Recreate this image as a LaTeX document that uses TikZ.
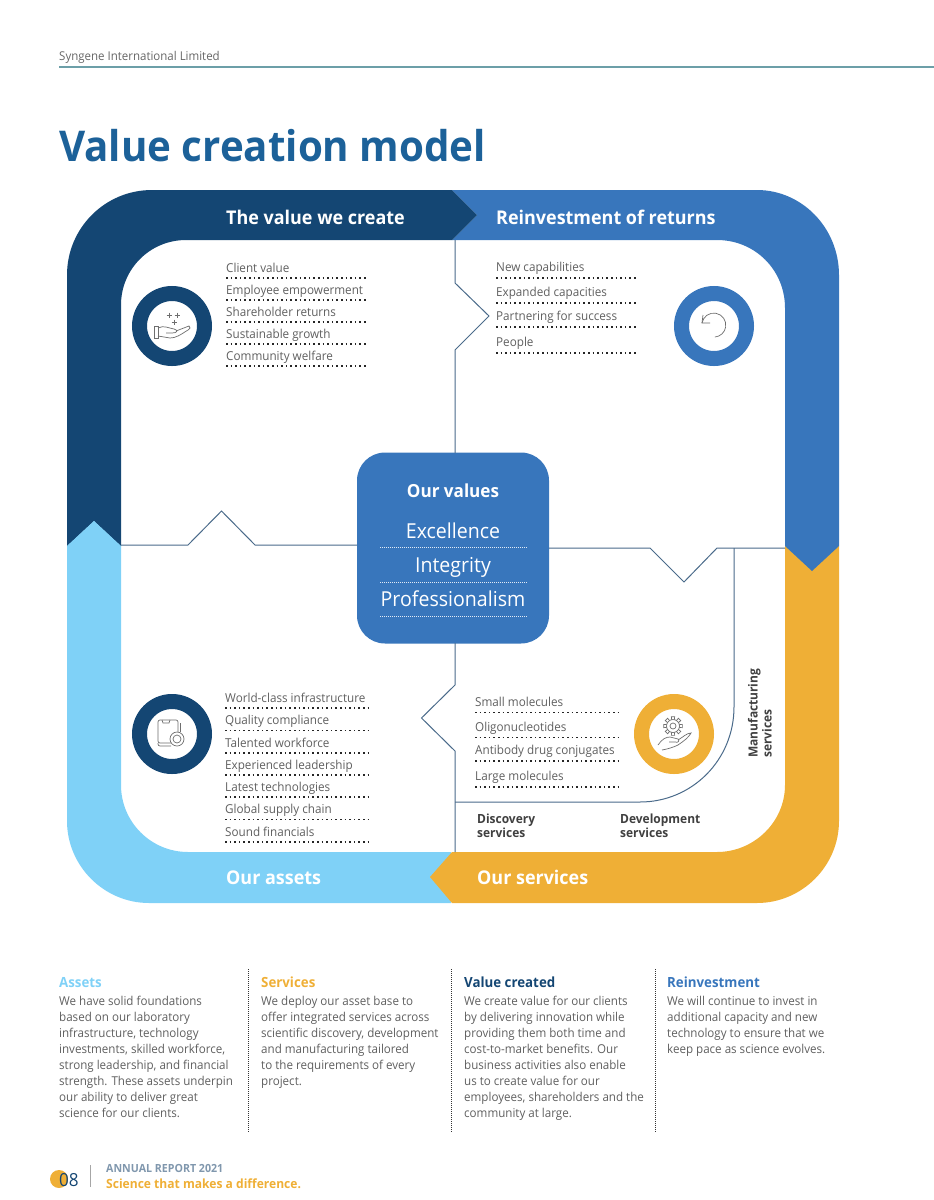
\documentclass[tikz,border=0pt]{standalone}
\usepackage{fontspec}
\setmainfont[FakeStretch=0.95]{Open Sans}
\usetikzlibrary{calc}
\definecolor{navyband}{HTML}{144673}
\definecolor{blueband}{HTML}{3876BC}
\definecolor{skyband}{HTML}{7FD1F7}
\definecolor{goldband}{HTML}{EFAF36}
\definecolor{titleblue}{HTML}{1C6199}
\definecolor{linkslate}{HTML}{4A6A8A}
\definecolor{rulegreen}{HTML}{6C9FA8}
\definecolor{bodygrey}{HTML}{5F5F5F}
\definecolor{icongrey}{HTML}{6E6E6E}
\newcommand{\listfont}{\fontsize{12.3}{15}\selectfont}
\newcommand{\bodyfont}{\fontsize{12.2}{16}\selectfont}
\newcommand{\headfont}{\fontsize{14}{16}\selectfont\bfseries}
\newcommand{\bandfont}{\fontsize{18.9}{22}\selectfont\bfseries}
\newcommand{\valuefont}{\fontsize{20.6}{25}\selectfont}
\newcommand{\servfont}{\fontsize{12.6}{14}\selectfont\bfseries}
\tikzset{
    bandlabel/.style={anchor=base west, text=white, font=\bandfont, inner sep=0pt},
    listitem/.style={anchor=base west, text=bodygrey, font=\listfont, inner sep=0pt},
    dotrule/.style={line width=1.6pt, dash pattern=on 1.6pt off 3pt, black!85},
    finedots/.style={line width=0.8pt, dash pattern=on 0.8pt off 1.2pt, black!80},
    whitedots/.style={line width=0.8pt, dash pattern=on 0.9pt off 1.1pt, white!85!blueband},
    link/.style={draw=linkslate, line width=1pt},
    ring/.style={draw=#1, circle, line width=15pt, minimum size=65pt, fill=white, outer sep=0pt, inner sep=0pt},
    iconline/.style={draw=icongrey, line width=0.7pt},
    coltext/.style={anchor=north west, align=left, text=bodygrey, font=\bodyfont, inner sep=0pt},
    colhead/.style={anchor=base west, font=\headfont, inner sep=0pt},
    servlabel/.style={align=left, text=black!75, font=\servfont, inner sep=0pt}
}
\begin{document}
\begin{tikzpicture}[x=1pt, y=-1pt]
        \useasboundingbox (0,0) rectangle (934,1200);

        % --- Header ---
        \node [anchor=base west, text=black!60, font=\fontsize{12.1}{14}\selectfont, inner sep=0pt] (company) at (59,60) {Syngene International Limited};
        \coordinate (ruleleft) at (59,67);
        \coordinate (ruleright) at (934,67);
        \draw [draw=rulegreen, line width=1.3pt] (ruleleft) -- (ruleright);
        \node [anchor=base west, text=titleblue, font=\fontsize{42.4}{50}\selectfont\bfseries, inner sep=0pt] (title) at (59,161) {Value creation model};

        % --- Bands ---
        \fill [skyband] (451,903) -- (149,903) .. controls (104,903) and (67,866) .. (67,821) -- (67,546) -- (94,521) -- (121,546) -- (121,785) .. controls (121,822) and (151,852) .. (188,852) -- (451,852) -- cycle;
        \fill [navyband] (452,190) -- (152,190) .. controls (105,190) and (67,228) .. (67,275) -- (67,546) -- (94,521) -- (121,546) -- (121,305) .. controls (121,269) and (150,240) .. (186,240) -- (452,240) -- cycle;
        \fill [skyband] (67,546) -- (94,521) -- (121,546) -- cycle;
        \fill [goldband] (839,546) -- (839,821) .. controls (839,866) and (802,903) .. (757,903) -- (452,903) -- (430,877) -- (452,852) -- (717,852) .. controls (754,852) and (785,822) .. (785,785) -- (785,546) -- cycle;
        \fill [blueband] (452,190) -- (757,190) .. controls (802,190) and (839,228) .. (839,275) -- (839,546) -- (812,571) -- (785,546) -- (785,308) .. controls (785,270) and (755,240) .. (717,240) -- (452,240) -- (477,215) -- cycle;
        \fill [navyband] (452,190) -- (477,215) -- (452,240) -- cycle;

        % --- Band labels ---
        \node [bandlabel] (createlabel) at (226,224) {The value we create};
        \node [bandlabel] (reinvestlabel) at (496,224) {Reinvestment of returns};
        \node [bandlabel] (assetlabel) at (226,884) {Our assets};
        \node [bandlabel] (servicelabel) at (477,884) {Our services};

        % --- Values box ---
        \node [draw=none, fill=blueband, rounded corners=28pt, minimum width=192pt, minimum height=191pt, inner sep=0pt, outer sep=0pt] (valuesbox) at (453,548) {};
        \node [text=white, font=\fontsize{18}{20}\selectfont\bfseries, inner sep=0pt] (valuestitle) at (453,491) {Our values};
        \node [anchor=base, text=white, font=\valuefont, inner sep=0pt] (excellence) at (453,538) {Excellence};
        \node [anchor=base, text=white, font=\valuefont, inner sep=0pt] (integrity) at (453,572) {Integrity};
        \node [anchor=base, text=white, font=\valuefont, inner sep=0pt] (professionalism) at (453,606) {Professionalism};
        \foreach \y in {547,582,616} {
            \draw [whitedots] (380,\y) -- (527,\y);
        }

        % --- Thin links ---
        \coordinate (topfoot) at (455,240);
        \coordinate (bottomfoot) at (455,852);
        \coordinate (leftfoot) at (121,545);
        \coordinate (rightfoot) at (785,548);
        \coordinate (manutop) at (734,548);
        \coordinate (discleft) at (455,802);
        \draw [link] (topfoot) -- (455,283) -- (489,316) -- (455,350) -- (455,453);
        \draw [link] (455,643) -- (455,685) -- (421.5,718) -- (455,751) -- (bottomfoot);
        \draw [link] (leftfoot) -- (188,545) -- (221.5,511) -- (255,545) -- (357,545);
        \draw [link] (valuesbox.east) -- (650,548) -- (684,582) -- (717,548) -- (rightfoot);
        \draw [link] (manutop) -- (734,707) .. controls (734,760) and (692,802) .. (640,802) -- (discleft);

        % --- Rings ---
        \node [ring=navyband] (createring) at (172,326) {};
        \node [ring=blueband] (reinvestring) at (714,326) {};
        \node [ring=navyband] (assetring) at (172,734) {};
        \node [ring=goldband] (servicering) at (674,734) {};

        % --- Icons ---
        \draw [iconline] (154,326) rectangle (158,338);
        \draw [iconline] (158,328) .. controls (164,325) and (168,328) .. (174,329) .. controls (178,330) and (178,333) .. (172,333) -- (166,333);
        \draw [iconline] (176,331) -- (189,326) .. controls (191,327) and (190,329) .. (188,330) .. controls (180,335) and (176,338) .. (170,338) -- (158,336);
        \foreach \px/\py in {169/315,177/315,174/322} {
            \draw [iconline] (\px-2.5,\py) -- (\px+2.5,\py) (\px,\py-2.5) -- (\px,\py+2.5);
        }
        \draw [iconline] (702,323) arc [start angle=190, end angle=445, radius=12];
        \draw [iconline] (703,315) -- (702,323) -- (710,323);
        \draw [iconline, rounded corners=2pt] (178,732) -- (178,720) -- (158,720) -- (158,743) -- (171,743);
        \draw [iconline] (162,720) -- (163,723) -- (169,723) -- (170,720);
        \draw [iconline, rounded corners=2pt] (158,743) -- (158,746) -- (171,746);
        \draw [iconline] (180,723) -- (180,732);
        \draw [iconline] (177,739) circle [radius=7];
        \draw [iconline] (177,739) circle [radius=4];
        \draw [iconline] (673,726) circle [radius=3];
        \draw [iconline] (673,726) circle [radius=6.5];
        \foreach \a in {0,45,...,315} {
            \draw [iconline] ($(673,726)+(\a-13:6.5)$) -- ($(673,726)+(\a-10:9.5)$) -- ($(673,726)+(\a+10:9.5)$) -- ($(673,726)+(\a+13:6.5)$);
        }
        \draw [iconline] (658,745) .. controls (662,739) and (666,737) .. (670,737) -- (678,739) .. controls (680,741) and (678,743) .. (675,742) -- (669,742);
        \draw [iconline] (662,750) .. controls (668,749) and (674,747) .. (678,745) .. controls (684,741) and (689,737) .. (691,733) .. controls (687,733) and (683,737) .. (678,740);

        % --- Value list ---
        \foreach \y/\t [count=\i] in {278/Client value,300/Employee empowerment,322/Shareholder returns,344/Sustainable growth,366/Community welfare} {
            \node [listitem] (create\i) at (226,{\y-6}) {\t};
            \draw [dotrule] (226,\y) -- (366,\y);
        }
        % --- Reinvestment list ---
        \foreach \y/\t [count=\i] in {278/New capabilities,303/Expanded capacities,327/Partnering for success,353/People} {
            \node [listitem] (reinvest\i) at (496,{\y-6.5}) {\t};
            \draw [dotrule] (496,\y) -- (636,\y);
        }
        % --- Asset list ---
        \foreach \y/\t [count=\i] in {708/World-class infrastructure,730.5/Quality compliance,753/Talented workforce,775/Experienced leadership,797/Latest technologies,819.5/Global supply chain,842/Sound financials} {
            \node [listitem] (asset\i) at (225,{\y-6}) {\t};
            \draw [dotrule] (225,\y) -- (372,\y);
        }
        % --- Service list ---
        \foreach \y/\t [count=\i] in {712.5/Small molecules,737.5/Oligonucleotides,761/Antibody drug conjugates,787/Large molecules} {
            \node [listitem] (service\i) at (475,{\y-6.5}) {\t};
            \draw [dotrule] (475,\y) -- (622,\y);
        }

        % --- Service labels ---
        \node [servlabel, anchor=north west] (discovery) at (477,814) {Discovery\\services};
        \node [servlabel, anchor=north west] (development) at (620,814) {Development\\services};
        \node [servlabel, rotate=90, anchor=south west] (manufacturing) at (772,758) {Manufacturing\\services};

        % --- Columns ---
        \node [colhead, text=skyband] (assetshead) at (59,987) {Assets};
        \node [coltext] (assetstext) at (59,996) {We have solid foundations\\based on our laboratory\\infrastructure, technology\\investments, skilled workforce,\\strong leadership, and financial\\strength. These assets underpin\\our ability to deliver great\\science for our clients.};
        \node [colhead, text=goldband] (serviceshead) at (261,987) {Services};
        \node [coltext] (servicestext) at (261,996) {We deploy our asset base to\\offer integrated services across\\scientific discovery, development\\and manufacturing tailored\\to the requirements of every\\project.};
        \node [colhead, text=navyband] (valuehead) at (464,987) {Value created};
        \node [coltext] (valuetext) at (464,996) {We create value for our clients\\by delivering innovation while\\providing them both time and\\cost-to-market benefits. Our\\business activities also enable\\us to create value for our\\employees, shareholders and the\\community at large.};
        \node [colhead, text=blueband] (reinvesthead) at (667,987) {Reinvestment};
        \node [coltext] (reinvesttext) at (667,996) {We will continue to invest in\\additional capacity and new\\technology to ensure that we\\keep pace as science evolves.};
        \foreach \x in {248,451.5,655} {
            \draw [finedots] (\x,969) -- (\x,1132);
        }

        % --- Footer ---
        \fill [goldband] (59,1179) circle [radius=9];
        \node [anchor=base west, text=navyband, font=\fontsize{18}{20}\selectfont, inner sep=0pt] (pagenum) at (59,1186) {08};
        \coordinate (footsplit) at (90,1165);
        \coordinate (footsplitend) at (90,1187);
        \draw [draw=black!35, line width=0.8pt] (footsplit) -- (footsplitend);
        \node [anchor=base west, text=linkslate!70, font=\fontsize{11.2}{12}\selectfont\bfseries, inner sep=0pt] (report) at (106,1172) {ANNUAL REPORT 2021};
        \node [anchor=base west, text=goldband, font=\fontsize{12.7}{14}\selectfont\bfseries, inner sep=0pt] (slogan) at (106,1188) {Science that makes a difference.};

    \end{tikzpicture}
\end{document}
